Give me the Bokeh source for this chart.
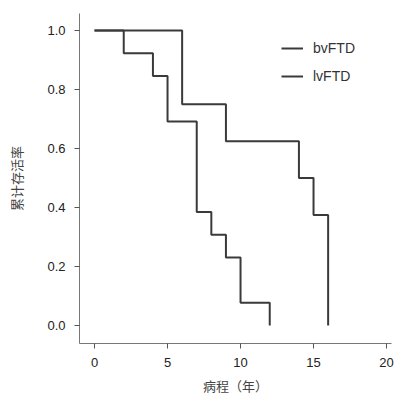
from bokeh.plotting import figure
from bokeh.models import FixedTicker, NumeralTickFormatter, Legend, LegendItem, Range1d
from bokeh.embed import file_html
from bokeh.resources import INLINE

# Kaplan-Meier data (years, cumulative survival)
bv_time = [0, 2, 4, 5, 7, 8, 9, 10, 12]
bv_surv = [1.0, 0.923, 0.846, 0.692, 0.385, 0.308, 0.231, 0.077, 0.0]
lv_time = [0, 6, 9, 14, 15, 16]
lv_surv = [1.0, 0.75, 0.625, 0.5, 0.375, 0.0]

x_ticks = [0, 5, 10, 15, 20]
y_ticks = [0.0, 0.2, 0.4, 0.6, 0.8, 1.0]
series_names = ["bvFTD", "lvFTD"]
x_label = "病程（年）"
y_label = "累计存活率"

p = figure(width=395, height=397, output_backend="svg", toolbar_location=None,
           x_range=Range1d(-1.03, 20.34), y_range=Range1d(-0.061, 1.058),
           min_border_left=79, min_border_right=4, min_border_top=13, min_border_bottom=51)
p.outline_line_color = None
p.xgrid.visible = False
p.ygrid.visible = False
p.background_fill_color = "white"

line_color = "#3a3a3a"
r_bv = p.step(bv_time, bv_surv, mode="after", line_color=line_color, line_width=2)
r_lv = p.step(lv_time, lv_surv, mode="after", line_color=line_color, line_width=2)

for ax in (p.xaxis[0], p.yaxis[0]):
    ax.axis_line_color = "#777777"
    ax.axis_line_width = 1
    ax.major_tick_line_color = "#555555"
    ax.major_tick_line_width = 1
    ax.major_tick_in = 0
    ax.major_tick_out = 5
    ax.minor_tick_line_color = None
    ax.major_label_text_font = "Liberation Sans"
    ax.major_label_text_font_size = "13px"
    ax.major_label_text_color = "#222222"
    ax.axis_label_text_font = "Noto Sans CJK SC"
    ax.axis_label_text_font_size = "13px"
    ax.axis_label_text_font_style = "normal"
    ax.axis_label_text_color = "#444444"

p.xaxis.ticker = FixedTicker(ticks=x_ticks)
p.yaxis.ticker = FixedTicker(ticks=y_ticks)
p.yaxis.formatter = NumeralTickFormatter(format="0.0")
p.xaxis.major_label_standoff = 9
p.yaxis.major_label_standoff = 9
p.xaxis.axis_label = x_label
p.yaxis.axis_label = y_label
p.xaxis.axis_label_standoff = 6
p.yaxis.axis_label_standoff = 18

legend = Legend(items=[LegendItem(label=series_names[0], renderers=[r_bv]),
                       LegendItem(label=series_names[1], renderers=[r_lv])],
                location=(202, 257), padding=0, margin=0, spacing=8,
                glyph_width=22, glyph_height=20, label_height=20, label_standoff=10,
                border_line_color=None, background_fill_alpha=0,
                label_text_font="Liberation Sans", label_text_font_size="14px",
                label_text_color="#333333")
p.add_layout(legend)

open("out.html", "w").write(file_html(p, INLINE))
